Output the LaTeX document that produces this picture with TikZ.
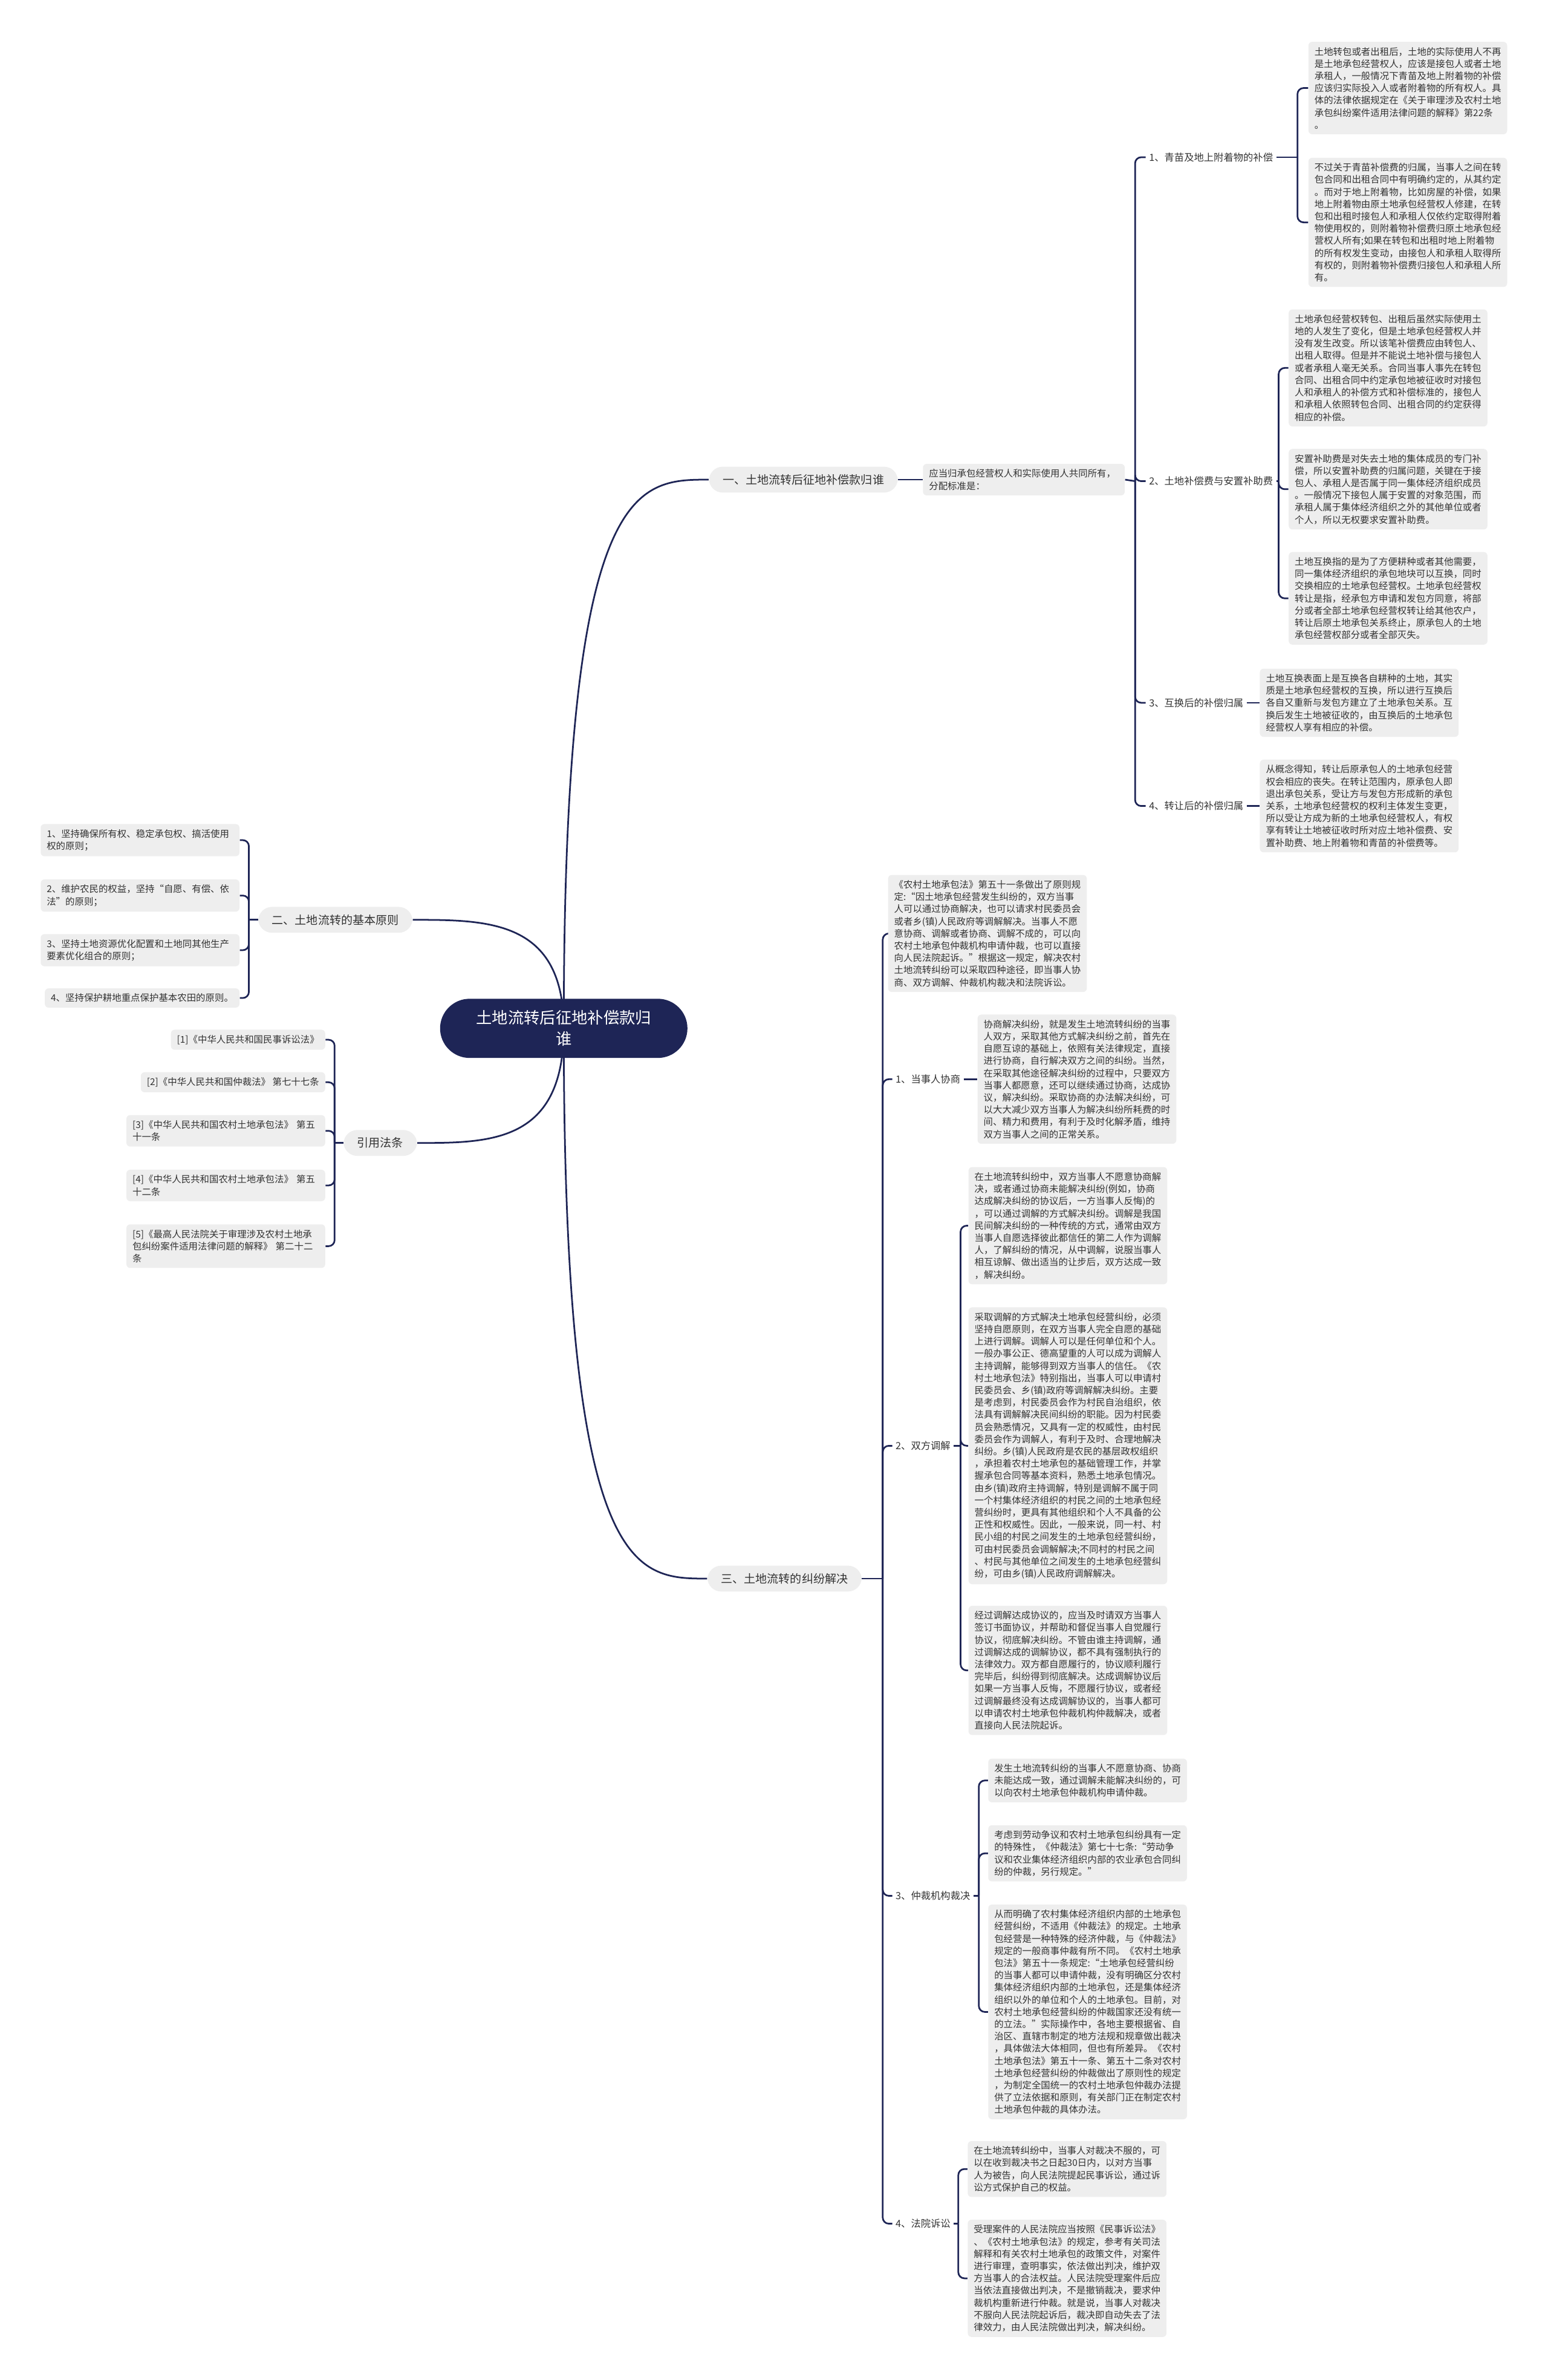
\documentclass[tikz,border=0pt]{standalone}
\usepackage{fontspec}
\setmainfont{Noto Sans CJK SC}
\usetikzlibrary{calc,backgrounds}
\definecolor{navy}{HTML}{1E2556}
\definecolor{card}{HTML}{EEEEEE}
\definecolor{ink}{HTML}{333333}
\tikzset{
  root/.style={fill=navy, text=white, rounded corners=19.5pt, minimum width=163pt, minimum height=39pt, align=center, font=\fontsize{10.5}{14}\selectfont},
  topic/.style={fill=card, text=ink, rounded corners=9pt, inner xsep=9pt, inner ysep=5pt, font=\fontsize{7.6}{9}\selectfont},
  sub/.style={text=ink, inner xsep=2pt, inner ysep=2pt, font=\fontsize{6.5}{8}\selectfont},
  note/.style={fill=card, text=ink, rounded corners=2.5pt, inner xsep=4pt, inner ysep=3.5pt, align=left, font=\fontsize{6.15}{8.05}\selectfont},
  leaf/.style={note, text width=123pt},
  link/.style={draw=navy, line width=1.1pt},
  elbow/.style={link, rounded corners=4pt},
}
\newcommand{\fanr}[2]{\foreach \kid in {#2} {\draw[elbow] (#1) |- (\kid.west);}}
\newcommand{\fanl}[2]{\foreach \kid in {#2} {\draw[elbow] (#1) |- (\kid.east);}}
\newcommand{\swoop}[2]{\draw[link] (#1.center) .. controls (#1.center |- #2) and ($(#1.center |- #2)!0.5!(#2)$) .. (#2);}

\begin{document}
\begin{tikzpicture}[x=1pt,y=-1pt]
  \useasboundingbox (0,0) rectangle (1020,1568);

  \node[root] (root) at (371.5,677.5) {土地流转后征地补偿款归\\谁};

  % branch one
  \node[topic, anchor=west] (b1) at (467,316) {一、土地流转后征地补偿款归谁};
  \node[leaf, text width=125pt, anchor=west] (n1) at (608,316) {应当归承包经营权人和实际使用人共同所有，\\分配标准是：};
  \node[sub, anchor=west] (s11) at (755,103.6) {1、青苗及地上附着物的补偿};
  \node[sub, anchor=west] (s12) at (755,317) {2、土地补偿费与安置补助费};
  \node[sub, anchor=west] (s13) at (755,463) {3、互换后的补偿归属};
  \node[sub, anchor=west] (s14) at (755,531) {4、转让后的补偿归属};

  \node[leaf, anchor=west] (ga) at (862,58) {土地转包或者出租后，土地的实际使用人不再\\是土地承包经营权人，应该是接包人或者土地\\承租人，一般情况下青苗及地上附着物的补偿\\应该归实际投入人或者附着物的所有权人。具\\体的法律依据规定在《关于审理涉及农村土地\\承包纠纷案件适用法律问题的解释》第22条\\。};
  \node[leaf, anchor=west] (gb) at (862,146.5) {不过关于青苗补偿费的归属，当事人之间在转\\包合同和出租合同中有明确约定的，从其约定\\。而对于地上附着物，比如房屋的补偿，如果\\地上附着物由原土地承包经营权人修建，在转\\包和出租时接包人和承租人仅依约定取得附着\\物使用权的，则附着物补偿费归原土地承包经\\营权人所有;如果在转包和出租时地上附着物\\的所有权发生变动，由接包人和承租人取得所\\有权的，则附着物补偿费归接包人和承租人所\\有。};
  \node[leaf, anchor=west] (gc) at (849,242.4) {土地承包经营权转包、出租后虽然实际使用土\\地的人发生了变化，但是土地承包经营权人并\\没有发生改变。所以该笔补偿费应由转包人、\\出租人取得。但是并不能说土地补偿与接包人\\或者承租人毫无关系。合同当事人事先在转包\\合同、出租合同中约定承包地被征收时对接包\\人和承租人的补偿方式和补偿标准的，接包人\\和承租人依照转包合同、出租合同的约定获得\\相应的补偿。};
  \node[leaf, anchor=west] (gd) at (849,322.3) {安置补助费是对失去土地的集体成员的专门补\\偿，所以安置补助费的归属问题，关键在于接\\包人、承租人是否属于同一集体经济组织成员\\。一般情况下接包人属于安置的对象范围，而\\承租人属于集体经济组织之外的其他单位或者\\个人，所以无权要求安置补助费。};
  \node[leaf, anchor=west] (ge) at (849,394.2) {土地互换指的是为了方便耕种或者其他需要，\\同一集体经济组织的承包地块可以互换，同时\\交换相应的土地承包经营权。土地承包经营权\\转让是指，经承包方申请和发包方同意，将部\\分或者全部土地承包经营权转让给其他农户，\\转让后原土地承包关系终止，原承包人的土地\\承包经营权部分或者全部灭失。};
  \node[leaf, anchor=west] (gf) at (830,463) {土地互换表面上是互换各自耕种的土地，其实\\质是土地承包经营权的互换，所以进行互换后\\各自又重新与发包方建立了土地承包关系。互\\换后发生土地被征收的，由互换后的土地承包\\经营权人享有相应的补偿。};
  \node[leaf, anchor=west] (gg) at (830,531) {从概念得知，转让后原承包人的土地承包经营\\权会相应的丧失。在转让范围内，原承包人即\\退出承包关系，受让方与发包方形成新的承包\\关系，土地承包经营权的权利主体发生变更，\\所以受让方成为新的土地承包经营权人，有权\\享有转让土地被征收时所对应土地补偿费、安\\置补助费、地上附着物和青苗的补偿费等。};

  % branch two
  \node[topic, anchor=east] (b2) at (272,606) {二、土地流转的基本原则};
  \node[leaf, anchor=east] (l1) at (158,553.5) {1、坚持确保所有权、稳定承包权、搞活使用\\权的原则；};
  \node[leaf, anchor=east] (l2) at (158,590) {2、维护农民的权益，坚持“自愿、有偿、依\\法”的原则；};
  \node[leaf, anchor=east] (l3) at (158,626) {3、坚持土地资源优化配置和土地同其他生产\\要素优化组合的原则；};
  \node[note, anchor=east] (l4) at (158,657.5) {4、坚持保护耕地重点保护基本农田的原则。};

  % references
  \node[topic, anchor=east] (b4) at (275,753) {引用法条};
  \node[note, anchor=east] (r1) at (214.5,685) {[1]《中华人民共和国民事诉讼法》};
  \node[note, anchor=east] (r2) at (214.5,713) {[2]《中华人民共和国仲裁法》 第七十七条};
  \node[leaf, anchor=east] (r3) at (214.5,745) {[3]《中华人民共和国农村土地承包法》 第五\\十一条};
  \node[leaf, anchor=east] (r4) at (214.5,781) {[4]《中华人民共和国农村土地承包法》 第五\\十二条};
  \node[leaf, anchor=east] (r5) at (214.5,821) {[5]《最高人民法院关于审理涉及农村土地承\\包纠纷案件适用法律问题的解释》 第二十二\\条};

  % branch three
  \node[topic, anchor=west] (b3) at (466,1040) {三、土地流转的纠纷解决};
  \node[leaf, anchor=west] (p0) at (585,615) {《农村土地承包法》第五十一条做出了原则规\\定:“因土地承包经营发生纠纷的，双方当事\\人可以通过协商解决，也可以请求村民委员会\\或者乡(镇)人民政府等调解解决。当事人不愿\\意协商、调解或者协商、调解不成的，可以向\\农村土地承包仲裁机构申请仲裁，也可以直接\\向人民法院起诉。”根据这一规定，解决农村\\土地流转纠纷可以采取四种途径，即当事人协\\商、双方调解、仲裁机构裁决和法院诉讼。};
  \node[sub, anchor=west] (t1) at (588,711) {1、当事人协商};
  \node[sub, anchor=west] (t2) at (588,952.5) {2、双方调解};
  \node[sub, anchor=west] (t3) at (588,1249) {3、仲裁机构裁决};
  \node[sub, anchor=west] (t4) at (588,1465) {4、法院诉讼};

  \node[leaf, anchor=west] (q1) at (644,711) {协商解决纠纷，就是发生土地流转纠纷的当事\\人双方，采取其他方式解决纠纷之前，首先在\\自愿互谅的基础上，依照有关法律规定，直接\\进行协商，自行解决双方之间的纠纷。当然，\\在采取其他途径解决纠纷的过程中，只要双方\\当事人都愿意，还可以继续通过协商，达成协\\议，解决纠纷。采取协商的办法解决纠纷，可\\以大大减少双方当事人为解决纠纷所耗费的时\\间、精力和费用，有利于及时化解矛盾，维持\\双方当事人之间的正常关系。};
  \node[leaf, anchor=west] (q2) at (638,807.5) {在土地流转纠纷中，双方当事人不愿意协商解\\决，或者通过协商未能解决纠纷(例如，协商\\达成解决纠纷的协议后，一方当事人反悔)的\\，可以通过调解的方式解决纠纷。调解是我国\\民间解决纠纷的一种传统的方式，通常由双方\\当事人自愿选择彼此都信任的第二人作为调解\\人，了解纠纷的情况，从中调解，说服当事人\\相互谅解、做出适当的让步后，双方达成一致\\，解决纠纷。};
  \node[leaf, anchor=west] (q3) at (638,952.5) {采取调解的方式解决土地承包经营纠纷，必须\\坚持自愿原则，在双方当事人完全自愿的基础\\上进行调解。调解人可以是任何单位和个人。\\一般办事公正、德高望重的人可以成为调解人\\主持调解，能够得到双方当事人的信任。《农\\村土地承包法》特别指出，当事人可以申请村\\民委员会、乡(镇)政府等调解解决纠纷。主要\\是考虑到，村民委员会作为村民自治组织，依\\法具有调解解决民间纠纷的职能。因为村民委\\员会熟悉情况，又具有一定的权威性，由村民\\委员会作为调解人，有利于及时、合理地解决\\纠纷。乡(镇)人民政府是农民的基层政权组织\\，承担着农村土地承包的基础管理工作，并掌\\握承包合同等基本资料，熟悉土地承包情况。\\由乡(镇)政府主持调解，特别是调解不属于同\\一个村集体经济组织的村民之间的土地承包经\\营纠纷时，更具有其他组织和个人不具备的公\\正性和权威性。因此，一般来说，同一村、村\\民小组的村民之间发生的土地承包经营纠纷，\\可由村民委员会调解解决;不同村的村民之间\\、村民与其他单位之间发生的土地承包经营纠\\纷，可由乡(镇)人民政府调解解决。};
  \node[leaf, anchor=west] (q4) at (638,1100.5) {经过调解达成协议的，应当及时请双方当事人\\签订书面协议，并帮助和督促当事人自觉履行\\协议，彻底解决纠纷。不管由谁主持调解，通\\过调解达成的调解协议，都不具有强制执行的\\法律效力。双方都自愿履行的，协议顺利履行\\完毕后，纠纷得到彻底解决。达成调解协议后\\如果一方当事人反悔，不愿履行协议，或者经\\过调解最终没有达成调解协议的，当事人都可\\以申请农村土地承包仲裁机构仲裁解决，或者\\直接向人民法院起诉。};
  \node[leaf, anchor=west] (q5) at (651,1173) {发生土地流转纠纷的当事人不愿意协商、协商\\未能达成一致，通过调解未能解决纠纷的，可\\以向农村土地承包仲裁机构申请仲裁。};
  \node[leaf, anchor=west] (q6) at (651,1221) {考虑到劳动争议和农村土地承包纠纷具有一定\\的特殊性，《仲裁法》第七十七条:“劳动争\\议和农业集体经济组织内部的农业承包合同纠\\纷的仲裁，另行规定。”};
  \node[leaf, anchor=west] (q7) at (651,1325.5) {从而明确了农村集体经济组织内部的土地承包\\经营纠纷，不适用《仲裁法》的规定。土地承\\包经营是一种特殊的经济仲裁，与《仲裁法》\\规定的一般商事仲裁有所不同。《农村土地承\\包法》第五十一条规定:“土地承包经营纠纷\\的当事人都可以申请仲裁，没有明确区分农村\\集体经济组织内部的土地承包，还是集体经济\\组织以外的单位和个人的土地承包。目前，对\\农村土地承包经营纠纷的仲裁国家还没有统一\\的立法。”实际操作中，各地主要根据省、自\\治区、直辖市制定的地方法规和规章做出裁决\\，具体做法大体相同，但也有所差异。《农村\\土地承包法》第五十一条、第五十二条对农村\\土地承包经营纠纷的仲裁做出了原则性的规定\\，为制定全国统一的农村土地承包仲裁办法提\\供了立法依据和原则，有关部门正在制定农村\\土地承包仲裁的具体办法。};
  \node[leaf, anchor=west] (q8) at (637.5,1429) {在土地流转纠纷中，当事人对裁决不服的，可\\以在收到裁决书之日起30日内，以对方当事\\人为被告，向人民法院提起民事诉讼，通过诉\\讼方式保护自己的权益。};
  \node[leaf, anchor=west] (q9) at (637.5,1501) {受理案件的人民法院应当按照《民事诉讼法》\\、《农村土地承包法》的规定，参考有关司法\\解释和有关农村土地承包的政策文件，对案件\\进行审理，查明事实，依法做出判决，维护双\\方当事人的合法权益。人民法院受理案件后应\\当依法直接做出判决，不是撤销裁决，要求仲\\裁机构重新进行仲裁。就是说，当事人对裁决\\不服向人民法院起诉后，裁决即自动失去了法\\律效力，由人民法院做出判决，解决纠纷。};

  \coordinate (j11) at (748,317);
  \coordinate (j12) at (855,103.6);
  \coordinate (j13) at (842.6,317);
  \coordinate (j2) at (164,606);
  \coordinate (j4) at (220.5,753);
  \coordinate (j3) at (581.7,1040);
  \coordinate (j32) at (633,952.5);
  \coordinate (j33) at (645,1249);
  \coordinate (j34) at (631.5,1465);

  \begin{scope}[on background layer]
    \swoop{root}{b1.west}
    \swoop{root}{b3.west}
    \swoop{root}{b2.east}
    \swoop{root}{b4.east}
    \draw[link] (b1.east) -- (n1.west);
    \draw[link] (n1.east) -- (j11);
    \fanr{j11}{s11,s12,s13,s14}
    \draw[link] (s11.east) -- (j12);
    \fanr{j12}{ga,gb}
    \draw[link] (s12.east) -- (j13);
    \fanr{j13}{gc,gd,ge}
    \draw[link] (s13.east) -- (gf.west);
    \draw[link] (s14.east) -- (gg.west);
    \draw[link] (b2.west) -- (j2);
    \fanl{j2}{l1,l2,l3,l4}
    \draw[link] (b4.west) -- (j4);
    \fanl{j4}{r1,r2,r3,r4,r5}
    \draw[link] (b3.east) -- (j3);
    \fanr{j3}{p0,t1,t2,t3,t4}
    \draw[link] (t1.east) -- (q1.west);
    \draw[link] (t2.east) -- (j32);
    \fanr{j32}{q2,q3,q4}
    \draw[link] (t3.east) -- (j33);
    \fanr{j33}{q5,q6,q7}
    \draw[link] (t4.east) -- (j34);
    \fanr{j34}{q8,q9}
  \end{scope}
\end{tikzpicture}
\end{document}
